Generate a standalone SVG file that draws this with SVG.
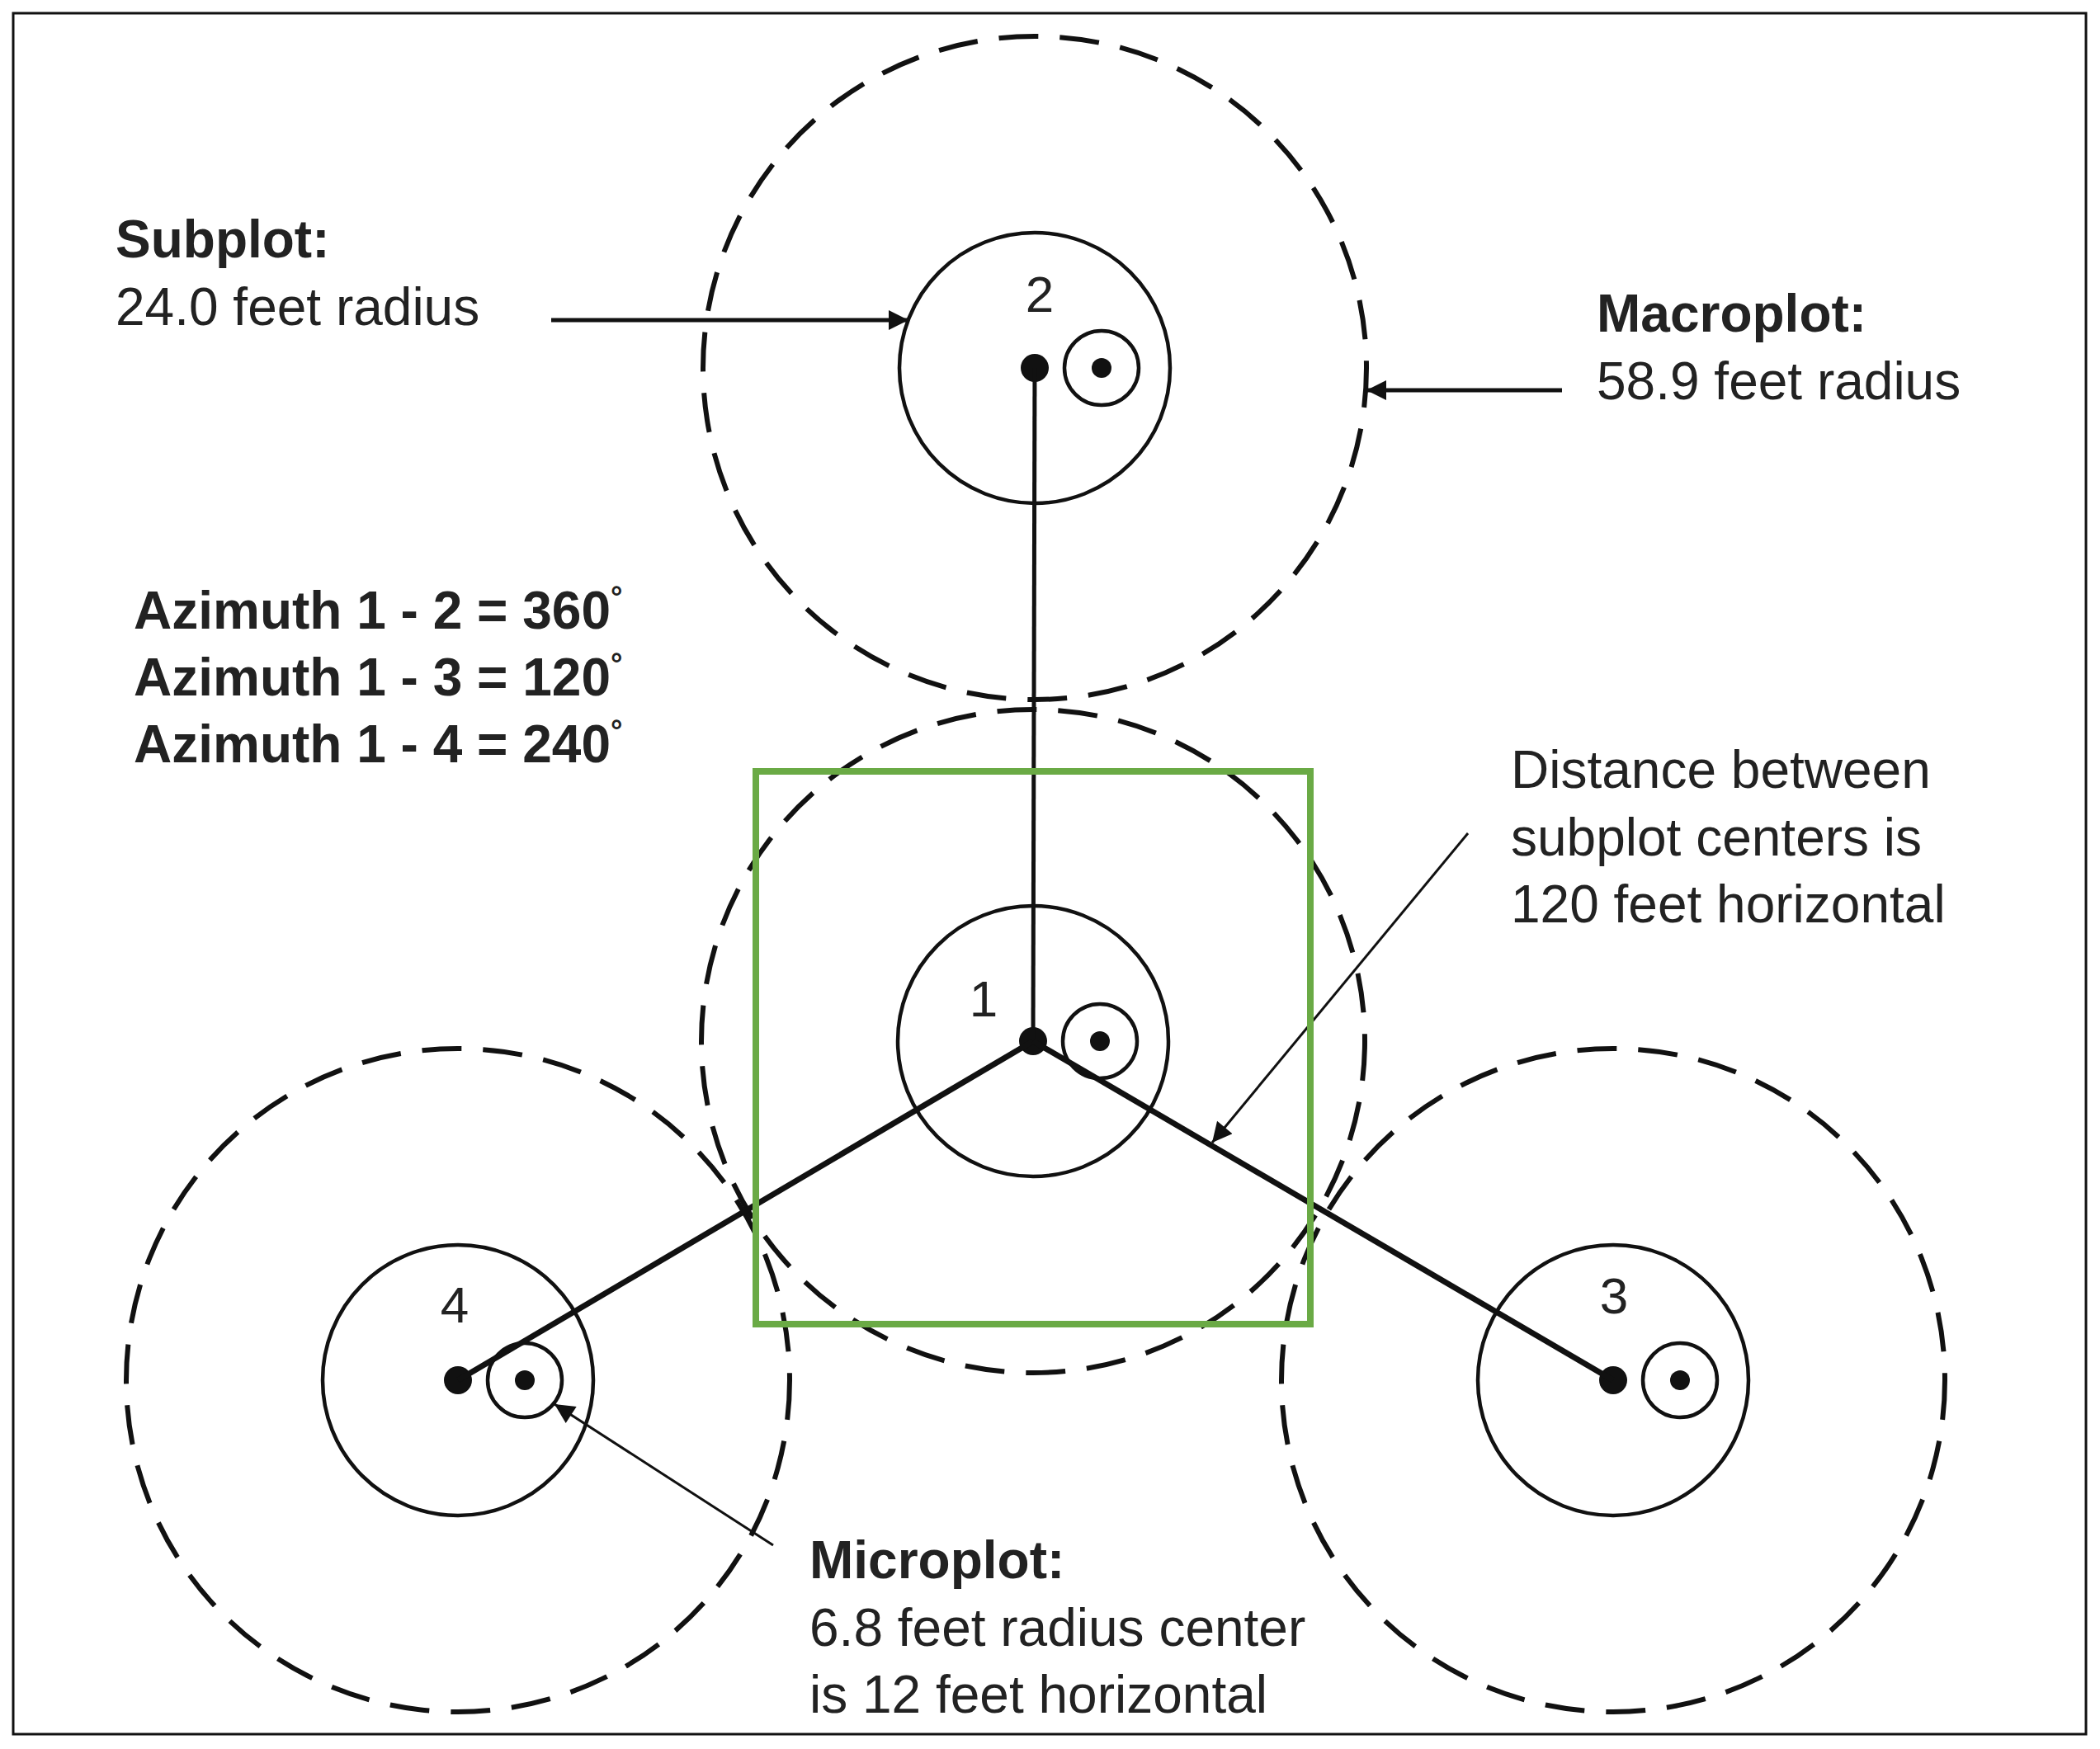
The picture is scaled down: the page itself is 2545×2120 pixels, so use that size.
<svg xmlns="http://www.w3.org/2000/svg" width="2545" height="2120" viewBox="0 0 2545 2120">
<style>
.macro{fill:none;stroke:#111;stroke-width:6;stroke-dasharray:48 26}
.sub{fill:none;stroke:#111;stroke-width:4.5}
.micro{fill:none;stroke:#111;stroke-width:4.5}
.dot{fill:#111}
.lbl{font-family:"Liberation Sans",Arial,sans-serif;font-size:64px;fill:#222}
.b{font-weight:bold}
.num{font-family:"Liberation Sans",Arial,sans-serif;font-size:62px;fill:#222;text-anchor:middle}
.ptr{stroke:#111;stroke-width:5;fill:none}
</style>
<defs>
<marker id="ah" viewBox="0 0 10 10" refX="10" refY="5" markerWidth="36" markerHeight="24" markerUnits="userSpaceOnUse" orient="auto"><path d="M0,0 L10,5 L0,10 z" fill="#111"/></marker>
</defs>
<rect x="16" y="16" width="2512" height="2086" fill="#fff" stroke="#111" stroke-width="3"/>
<g id="plot2"><circle class="macro" cx="1254" cy="446" r="402"/><circle class="sub" cx="1254" cy="446" r="164"/><circle class="micro" cx="1335" cy="446" r="45"/><circle class="dot" cx="1335" cy="446" r="12"/><circle class="dot" cx="1254" cy="446" r="17"/><text class="num" x="1260" y="378">2</text></g>
<g id="plot1"><circle class="macro" cx="1252" cy="1262" r="402"/><circle class="sub" cx="1252" cy="1262" r="164"/><circle class="micro" cx="1333" cy="1262" r="45"/><circle class="dot" cx="1333" cy="1262" r="12"/><circle class="dot" cx="1252" cy="1262" r="17"/><text class="num" x="1192" y="1232">1</text></g>
<g id="plot4"><circle class="macro" cx="555" cy="1673" r="402"/><circle class="sub" cx="555" cy="1673" r="164"/><circle class="micro" cx="636" cy="1673" r="45"/><circle class="dot" cx="636" cy="1673" r="12"/><circle class="dot" cx="555" cy="1673" r="17"/><text class="num" x="551" y="1603">4</text></g>
<g id="plot3"><circle class="macro" cx="1955" cy="1673" r="402"/><circle class="sub" cx="1955" cy="1673" r="164"/><circle class="micro" cx="2036" cy="1673" r="45"/><circle class="dot" cx="2036" cy="1673" r="12"/><circle class="dot" cx="1955" cy="1673" r="17"/><text class="num" x="1956" y="1592">3</text></g>
<g id="connectors">
<line x1="1254" y1="446" x2="1252" y2="1262" stroke="#111" stroke-width="5"/>
<line x1="1252" y1="1262" x2="555" y2="1673" stroke="#111" stroke-width="7"/>
<line x1="1252" y1="1262" x2="1955" y2="1673" stroke="#111" stroke-width="7"/>
<line class="ptr" x1="668" y1="388" x2="1101" y2="388" marker-end="url(#ah)"/>
<line class="ptr" x1="1893" y1="473" x2="1656" y2="473" marker-end="url(#ah)"/>
<line x1="1779" y1="1010" x2="1469" y2="1385" stroke="#111" stroke-width="3" marker-end="url(#ah)"/>
<line x1="937" y1="1873" x2="672" y2="1702" stroke="#111" stroke-width="3" marker-end="url(#ah)"/>
</g>
<rect id="highlight" x="916" y="935" width="672" height="670" fill="none" stroke="#6aaa45" stroke-width="8"/>
<g id="labels">
<text class="lbl b" x="140" y="312">Subplot:</text>
<text class="lbl" x="140" y="394">24.0 feet radius</text>
<text class="lbl b" x="1935" y="402">Macroplot:</text>
<text class="lbl" x="1935" y="484">58.9 feet radius</text>
<text class="lbl b" x="162" y="762">Azimuth 1 - 2 = 360<tspan font-size="36" dy="-26">°</tspan></text>
<text class="lbl b" x="162" y="843">Azimuth 1 - 3 = 120<tspan font-size="36" dy="-26">°</tspan></text>
<text class="lbl b" x="162" y="924">Azimuth 1 - 4 = 240<tspan font-size="36" dy="-26">°</tspan></text>
<text class="lbl" x="1831" y="955">Distance between</text>
<text class="lbl" x="1831" y="1037">subplot centers is</text>
<text class="lbl" x="1831" y="1118">120 feet horizontal</text>
<text class="lbl b" x="981" y="1913">Microplot:</text>
<text class="lbl" x="981" y="1995">6.8 feet radius center</text>
<text class="lbl" x="981" y="2076">is 12 feet horizontal</text>
</g>
</svg>
